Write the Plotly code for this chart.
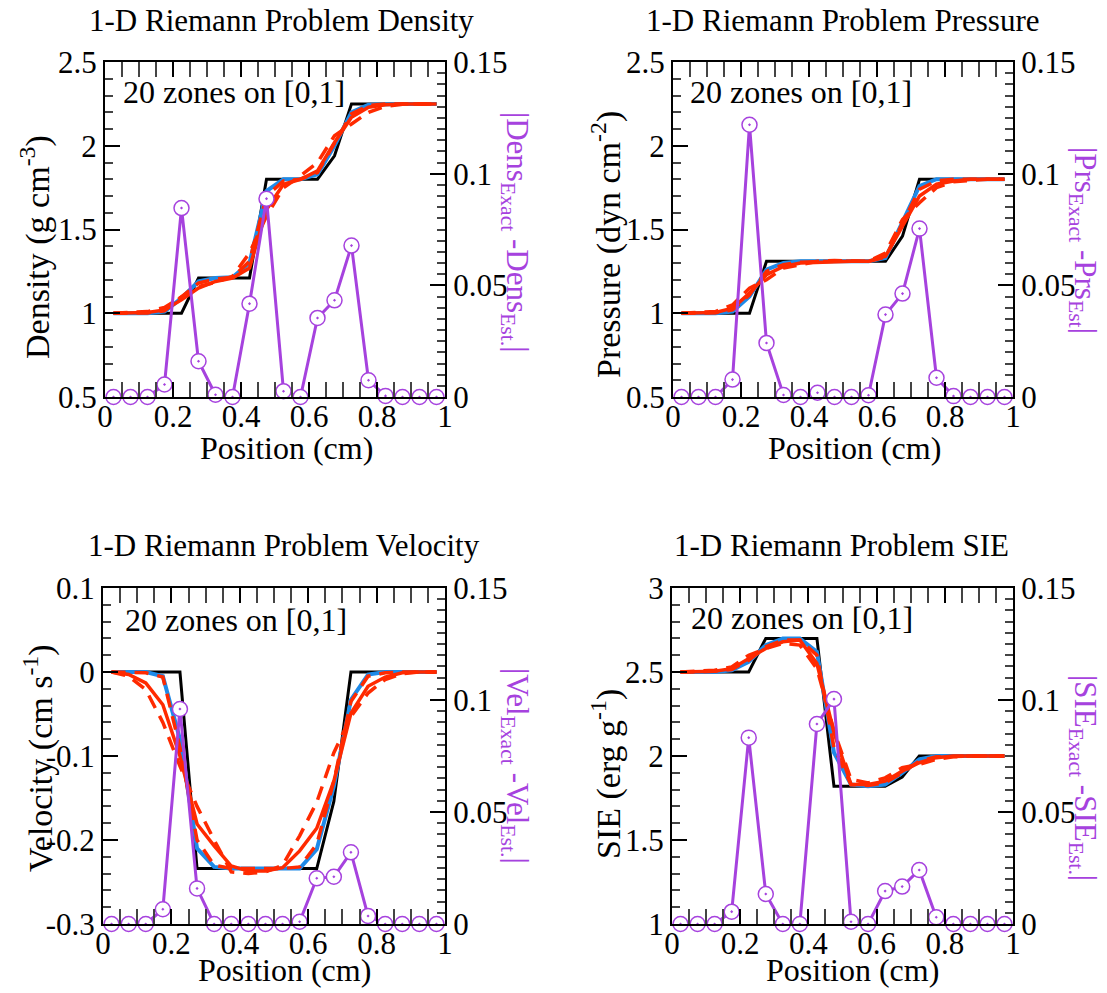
import plotly.graph_objects as go

# ---------------- data ----------------
x_zone = [0.025, 0.075, 0.125, 0.175, 0.225, 0.275, 0.325, 0.375, 0.425, 0.475,
          0.525, 0.575, 0.625, 0.675, 0.725, 0.775, 0.825, 0.875, 0.925, 0.975]

# Density
dens_exact = [1.0, 1.0, 1.0, 1.0, 1.0, 1.21, 1.21, 1.21, 1.21, 1.8,
              1.8, 1.8, 1.8, 1.94, 2.25, 2.25, 2.25, 2.25, 2.25, 2.25]
dens_blue = [1.0, 1.0, 1.0, 1.01, 1.09, 1.19, 1.21, 1.215, 1.30, 1.73,
             1.8, 1.8, 1.83, 2.0, 2.2, 2.245, 2.25, 2.25, 2.25, 2.25]
dens_red = [1.0, 1.0, 1.005, 1.02, 1.08, 1.15, 1.19, 1.21, 1.27, 1.62,
            1.77, 1.8, 1.85, 2.02, 2.17, 2.23, 2.245, 2.25, 2.25, 2.25]
dens_red_dash_a = [1.0, 1.003, 1.01, 1.035, 1.10, 1.16, 1.185, 1.22, 1.36, 1.58,
                   1.75, 1.82, 1.90, 2.06, 2.13, 2.2, 2.235, 2.248, 2.25, 2.25]
dens_red_dash_b = [1.0, 1.0, 1.002, 1.015, 1.10, 1.18, 1.205, 1.215, 1.31, 1.70,
                   1.79, 1.8, 1.84, 2.01, 2.19, 2.24, 2.25, 2.25, 2.25, 2.25]
dens_err = [0.0, 0.0, 0.0, 0.0056, 0.0846, 0.016, 0.001, 0.0, 0.0418, 0.0888,
            0.0026, 0.0, 0.0354, 0.0433, 0.0678, 0.0075, 0.0005, 0.0, 0.0, 0.0]

# Pressure
prs_exact = [1.0, 1.0, 1.0, 1.0, 1.0, 1.31, 1.31, 1.31, 1.31, 1.31,
             1.31, 1.31, 1.31, 1.46, 1.8, 1.8, 1.8, 1.8, 1.8, 1.8]
prs_blue = [1.0, 1.0, 1.0, 1.01, 1.10, 1.26, 1.30, 1.31, 1.31, 1.31,
            1.31, 1.31, 1.33, 1.55, 1.76, 1.8, 1.8, 1.8, 1.8, 1.8]
prs_red = [1.0, 1.0, 1.005, 1.03, 1.12, 1.23, 1.28, 1.30, 1.305, 1.31,
           1.31, 1.31, 1.34, 1.52, 1.70, 1.77, 1.79, 1.8, 1.8, 1.8]
prs_red_dash_a = [1.0, 1.003, 1.01, 1.05, 1.15, 1.20, 1.27, 1.29, 1.31, 1.315,
                  1.31, 1.31, 1.36, 1.56, 1.66, 1.75, 1.785, 1.795, 1.8, 1.8]
prs_red_dash_b = [1.0, 1.0, 1.003, 1.02, 1.11, 1.25, 1.29, 1.305, 1.31, 1.31,
                  1.31, 1.31, 1.335, 1.54, 1.74, 1.79, 1.8, 1.8, 1.8, 1.8]
prs_err = [0.0, 0.0, 0.0, 0.0078, 0.1219, 0.0242, 0.0009, 0.0, 0.0019, 0.0,
           0.0, 0.0008, 0.0369, 0.0463, 0.0754, 0.0086, 0.0004, 0.0, 0.0, 0.0]

# Velocity
vel_exact = [0.0, 0.0, 0.0, 0.0, 0.0, -0.234, -0.234, -0.234, -0.234, -0.234,
             -0.234, -0.234, -0.234, -0.154, 0.0, 0.0, 0.0, 0.0, 0.0, 0.0]
vel_blue = [0.0, 0.0, 0.0, -0.005, -0.08, -0.21, -0.232, -0.234, -0.234, -0.234,
            -0.234, -0.234, -0.211, -0.136, -0.033, -0.003, 0.0, 0.0, 0.0, 0.0]
vel_red = [0.0, -0.003, -0.013, -0.039, -0.10, -0.181, -0.207, -0.231, -0.237, -0.237,
           -0.233, -0.213, -0.186, -0.13, -0.049, -0.017, -0.006, -0.001, 0.0, 0.0]
vel_red_dash_a = [0.0, -0.005, -0.021, -0.06, -0.112, -0.16, -0.2, -0.238, -0.24, -0.238,
                  -0.23, -0.195, -0.155, -0.096, -0.053, -0.025, -0.009, -0.002, 0.0, 0.0]
vel_red_dash_b = [0.0, 0.0, -0.001, -0.006, -0.09, -0.20, -0.23, -0.234, -0.234, -0.234,
                  -0.234, -0.232, -0.205, -0.13, -0.035, -0.005, -0.001, 0.0, 0.0, 0.0]
vel_err = [0.0, 0.0, 0.0, 0.0066, 0.096, 0.0159, 0.0, 0.0, 0.0, 0.0,
           0.0, 0.001, 0.0204, 0.0211, 0.032, 0.0036, 0.0, 0.0, 0.0, 0.0]

# SIE
sie_exact = [2.5, 2.5, 2.5, 2.5, 2.5, 2.7, 2.7, 2.7, 2.7, 1.82,
             1.82, 1.82, 1.82, 1.875, 2.0, 2.0, 2.0, 2.0, 2.0, 2.0]
sie_blue = [2.5, 2.5, 2.5, 2.51, 2.56, 2.66, 2.7, 2.7, 2.62, 2.02,
            1.83, 1.82, 1.83, 1.9, 1.98, 2.0, 2.0, 2.0, 2.0, 2.0]
sie_red = [2.5, 2.5, 2.505, 2.52, 2.58, 2.64, 2.68, 2.69, 2.55, 2.14,
           1.83, 1.83, 1.85, 1.91, 1.96, 1.99, 2.0, 2.0, 2.0, 2.0]
sie_red_dash_a = [2.5, 2.505, 2.51, 2.53, 2.60, 2.64, 2.67, 2.66, 2.52, 2.15,
                  1.86, 1.84, 1.87, 1.93, 1.95, 1.98, 1.995, 2.0, 2.0, 2.0]
sie_red_dash_b = [2.5, 2.5, 2.505, 2.515, 2.57, 2.65, 2.69, 2.69, 2.60, 2.05,
                  1.83, 1.825, 1.84, 1.9, 1.97, 1.995, 2.0, 2.0, 2.0, 2.0]
sie_err = [0.0, 0.0, 0.0, 0.0055, 0.0832, 0.0134, 0.0, 0.0, 0.0893, 0.1004,
           0.001, 0.0, 0.0147, 0.0167, 0.0241, 0.003, 0.0, 0.0, 0.0, 0.0]

# tick labels
x_tickvals = [0, 0.2, 0.4, 0.6, 0.8, 1]
x_ticktext = ["0", "0.2", "0.4", "0.6", "0.8", "1"]
err_tickvals = [0, 0.05, 0.1, 0.15]
err_ticktext = ["0", "0.05", "0.1", "0.15"]
dens_tickvals = [0.5, 1, 1.5, 2, 2.5]
dens_ticktext = ["0.5", "1", "1.5", "2", "2.5"]
prs_tickvals = [0.5, 1, 1.5, 2, 2.5]
prs_ticktext = ["0.5", "1", "1.5", "2", "2.5"]
vel_tickvals = [-0.3, -0.2, -0.1, 0, 0.1]
vel_ticktext = ["-0.3", "-0.2", "-0.1", "0", "0.1"]
sie_tickvals = [1, 1.5, 2, 2.5, 3]
sie_ticktext = ["1", "1.5", "2", "2.5", "3"]

titles = ["1-D Riemann Problem Density", "1-D Riemann Problem Pressure",
          "1-D Riemann Problem Velocity", "1-D Riemann Problem SIE"]
left_titles = ["Density (g cm<sup>-3</sup>)", "Pressure (dyn cm<sup>-2</sup>)",
               "Velocity (cm s<sup>-1</sup>)", "SIE (erg g<sup>-1</sup>)"]
right_titles = ["|Dens<sub>Exact</sub> -Dens<sub>Est.</sub>|",
                "|Prs<sub>Exact</sub> -Prs<sub>Est</sub>|",
                "|Vel<sub>Exact</sub> -Vel<sub>Est.</sub>|",
                "|SIE<sub>Exact</sub> -SIE<sub>Est.</sub>|"]
x_title = "Position (cm)"
zones_label = "20 zones on [0,1]"

# ---------------- styling / layout ----------------
W, H = 1107, 993
FONT = "'Liberation Serif', 'Times New Roman', Times, 'DejaVu Serif', serif"
PURPLE = "#A642DE"
BLUE = "#1E8AE8"
RED = "#FF2A00"


def fx(p):
    return p / W


def fy(p):
    return 1 - p / H


panels = [
    dict(exact=dens_exact, blue=dens_blue, red=dens_red, ra=dens_red_dash_a, rb=dens_red_dash_b,
         err=dens_err, tv=dens_tickvals, tt=dens_ticktext, yr=[0.5, 2.5], minor=0.1,
         xd=(105, 445), yd=(62, 397), title_xy=(281, 20), xt_xy=(286, 448),
         lt_xy=(36, 247), rt_xy=(515, 232), zl_xy=(121, 92)),
    dict(exact=prs_exact, blue=prs_blue, red=prs_red, ra=prs_red_dash_a, rb=prs_red_dash_b,
         err=prs_err, tv=prs_tickvals, tt=prs_ticktext, yr=[0.5, 2.5], minor=0.1,
         xd=(673, 1013), yd=(62, 397), title_xy=(842, 20), xt_xy=(854, 448),
         lt_xy=(606, 245), rt_xy=(1083, 240), zl_xy=(688, 92)),
    dict(exact=vel_exact, blue=vel_blue, red=vel_red, ra=vel_red_dash_a, rb=vel_red_dash_b,
         err=vel_err, tv=vel_tickvals, tt=vel_ticktext, yr=[-0.3, 0.1], minor=0.02,
         xd=(103, 445), yd=(588, 924), title_xy=(284, 545), xt_xy=(284, 970),
         lt_xy=(38, 758), rt_xy=(515, 766), zl_xy=(123, 620)),
    dict(exact=sie_exact, blue=sie_blue, red=sie_red, ra=sie_red_dash_a, rb=sie_red_dash_b,
         err=sie_err, tv=sie_tickvals, tt=sie_ticktext, yr=[1, 3], minor=0.1,
         xd=(672, 1013), yd=(588, 924), title_xy=(841, 545), xt_xy=(852, 970),
         lt_xy=(606, 774), rt_xy=(1083, 778), zl_xy=(689, 618)),
]

fig = go.Figure()
annotations = []
layout = {}

for i, p in enumerate(panels):
    n = i + 1
    nr = i + 5
    xa = "x" if n == 1 else f"x{n}"
    ya = "y" if n == 1 else f"y{n}"
    yr_ = f"y{nr}"

    common_line = dict(mode="lines", xaxis=xa, yaxis=ya, cliponaxis=False,
                       hoverinfo="skip", showlegend=False)
    fig.add_trace(go.Scatter(x=x_zone, y=p["exact"], line=dict(color="black", width=3), **common_line))
    fig.add_trace(go.Scatter(x=x_zone, y=p["blue"], line=dict(color=BLUE, width=4), **common_line))
    fig.add_trace(go.Scatter(x=x_zone, y=p["red"], line=dict(color=RED, width=3.5), **common_line))
    fig.add_trace(go.Scatter(x=x_zone, y=p["ra"], line=dict(color=RED, width=3.5, dash="14px,9px"), **common_line))
    fig.add_trace(go.Scatter(x=x_zone, y=p["rb"], line=dict(color=RED, width=3.5, dash="14px,9px"), **common_line))
    fig.add_trace(go.Scatter(x=x_zone, y=p["err"], mode="lines+markers", xaxis=xa, yaxis=yr_,
                             cliponaxis=False, hoverinfo="skip", showlegend=False,
                             line=dict(color=PURPLE, width=3),
                             marker=dict(symbol="circle-dot", size=15, color="white",
                                         line=dict(color=PURPLE, width=1.5))))

    tickfont = dict(family=FONT, size=31, color="black")
    layout["xaxis" if n == 1 else f"xaxis{n}"] = dict(
        domain=[fx(p["xd"][0]), fx(p["xd"][1])], range=[0, 1], anchor=ya,
        tickmode="array", tickvals=x_tickvals, ticktext=x_ticktext,
        ticks="inside", ticklen=15, tickwidth=1.5, tickcolor="black",
        minor=dict(ticks="inside", ticklen=8, tickwidth=1.5, tickcolor="#444",
                   tick0=0, dtick=0.05, showgrid=False),
        showline=True, linewidth=2, linecolor="black", mirror="allticks",
        showgrid=False, zeroline=False, tickfont=tickfont, fixedrange=True,
        automargin=False, ticklabelstandoff=-9)
    layout["yaxis" if n == 1 else f"yaxis{n}"] = dict(
        domain=[fy(p["yd"][1]), fy(p["yd"][0])], range=p["yr"], anchor=xa,
        tickmode="array", tickvals=p["tv"], ticktext=p["tt"],
        ticks="inside", ticklen=15, tickwidth=1.5, tickcolor="black",
        minor=dict(ticks="inside", ticklen=8, tickwidth=1.5, tickcolor="#444",
                   tick0=p["yr"][0], dtick=p["minor"], showgrid=False),
        showline=True, linewidth=2, linecolor="black", mirror=True,
        showgrid=False, zeroline=False, tickfont=tickfont, fixedrange=True,
        automargin=False)
    layout[f"yaxis{nr}"] = dict(
        domain=[fy(p["yd"][1]), fy(p["yd"][0])], range=[0, 0.15], anchor=xa,
        overlaying=ya, side="right",
        tickmode="array", tickvals=err_tickvals, ticktext=err_ticktext,
        ticks="inside", ticklen=15, tickwidth=1.5, tickcolor="black",
        minor=dict(ticks="inside", ticklen=8, tickwidth=1.5, tickcolor="#444",
                   tick0=0, dtick=0.005, showgrid=False),
        showline=True, linewidth=2, linecolor="black",
        showgrid=False, zeroline=False, tickfont=tickfont, fixedrange=True,
        automargin=False)

    annotations.append(dict(text=titles[i], x=fx(p["title_xy"][0]), y=fy(p["title_xy"][1]),
                            xref="paper", yref="paper", showarrow=False,
                            xanchor="center", yanchor="middle",
                            font=dict(family=FONT, size=31, color="black")))
    annotations.append(dict(text=x_title, x=fx(p["xt_xy"][0]), y=fy(p["xt_xy"][1]),
                            xref="paper", yref="paper", showarrow=False,
                            xanchor="center", yanchor="middle",
                            font=dict(family=FONT, size=32, color="black")))
    annotations.append(dict(text=left_titles[i], x=fx(p["lt_xy"][0]), y=fy(p["lt_xy"][1]),
                            xref="paper", yref="paper", showarrow=False, textangle=-90,
                            xanchor="center", yanchor="middle",
                            font=dict(family=FONT, size=34, color="black")))
    annotations.append(dict(text=right_titles[i], x=fx(p["rt_xy"][0]), y=fy(p["rt_xy"][1]),
                            xref="paper", yref="paper", showarrow=False, textangle=90,
                            xanchor="center", yanchor="middle",
                            font=dict(family=FONT, size=31, color=PURPLE)))
    annotations.append(dict(text=zones_label, x=fx(p["zl_xy"][0]), y=fy(p["zl_xy"][1]),
                            xref="paper", yref="paper", showarrow=False,
                            xanchor="left", yanchor="middle",
                            font=dict(family=FONT, size=32, color="black")))

fig.update_layout(width=W, height=H,
                  margin=dict(l=0, r=0, t=0, b=0, pad=0, autoexpand=False),
                  paper_bgcolor="white", plot_bgcolor="white", showlegend=False,
                  annotations=annotations, **layout)

fig.write_html("out.html")
